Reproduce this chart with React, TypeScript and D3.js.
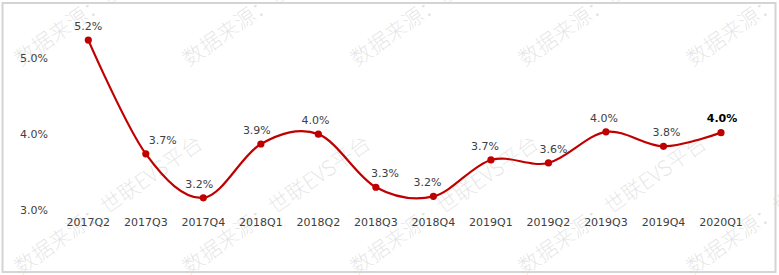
import React from "react";
import * as d3 from "d3";

const categories = ["2017Q2","2017Q3","2017Q4","2018Q1","2018Q2","2018Q3","2018Q4","2019Q1","2019Q2","2019Q3","2019Q4","2020Q1"];
const values = [5.24, 3.74, 3.16, 3.87, 4.0, 3.3, 3.18, 3.66, 3.62, 4.03, 3.84, 4.02];
const yTicks = [3, 4, 5];
const watermarkText = "数据来源：世联EVS平台";

// layout-only nudges for data labels (px)
const labelNudgeX = [0, 17, -4, -4, -3, 9, -6, -6, 5, -2, 3, 1];

const W = 779, H = 275;

export default function App() {
  const x = d3.scalePoint<string>().domain(categories).range([88.3, 721]);
  const y = d3.scaleLinear().domain([3, 5]).range([210, 58.3]);
  const line = d3.line<number>()
    .x((_, i) => x(categories[i]) as number)
    .y((d) => y(d))
    .curve(d3.curveCatmullRom.alpha(0));
  const path = line(values) || "";
  const fmtPct = (v: number) => v.toFixed(1) + "%";

  const wmCols = [0, 1, 2, 3, 4];
  const wmRows = [275, 67];

  return (
    <svg width={W} height={H} style={{ position: "absolute", left: 0, top: 0, background: "#fff" }}
      fontFamily="'DejaVu Sans', Verdana, sans-serif">
      <rect x={0} y={0} width={W} height={H} fill="#fff" />
      {/* watermarks */}
      <g fill="#e0e0e0" fontFamily="'Noto Sans CJK SC', sans-serif" fontSize={21} fontWeight={100}>
        {wmRows.map((ry) =>
          wmCols.map((c) => {
            const x0 = 21 + c * 168;
            return (
              <text key={ry + "-" + c} x={0} y={0} transform={`translate(${x0},${ry}) rotate(-35)`}>
                {watermarkText}
              </text>
            );
          })
        )}
      </g>
      {/* frame */}
      <rect x={2.5} y={3} width={773} height={269} fill="none" stroke="#d4d4d4" strokeWidth={2} />
      {/* y axis labels */}
      <g fontSize={11} fill="#404040" textAnchor="end">
        {yTicks.map((t) => (
          <text key={t} x={48} y={y(t)} dy="0.35em">{t.toFixed(1) + "%"}</text>
        ))}
      </g>
      {/* x axis labels */}
      <g fontSize={11} fill="#404040" textAnchor="middle">
        {categories.map((c) => (
          <text key={c} x={x(c)} y={222} dy="0.35em">{c}</text>
        ))}
      </g>
      {/* line */}
      <path d={path} fill="none" stroke="#c00000" strokeWidth={2.2} />
      {values.map((v, i) => (
        <circle key={i} cx={x(categories[i])} cy={y(v)} r={3.6} fill="#c00000" />
      ))}
      {/* data labels */}
      <g fontSize={11} textAnchor="middle">
        {values.map((v, i) => {
          const last = i === values.length - 1;
          return (
            <text key={i} x={(x(categories[i]) as number) + labelNudgeX[i]} y={y(v) - 14} dy="0.35em"
              fill={last ? "#000" : "#404040"} fontWeight={last ? "bold" : "normal"}>
              {fmtPct(v)}
            </text>
          );
        })}
      </g>
    </svg>
  );
}
